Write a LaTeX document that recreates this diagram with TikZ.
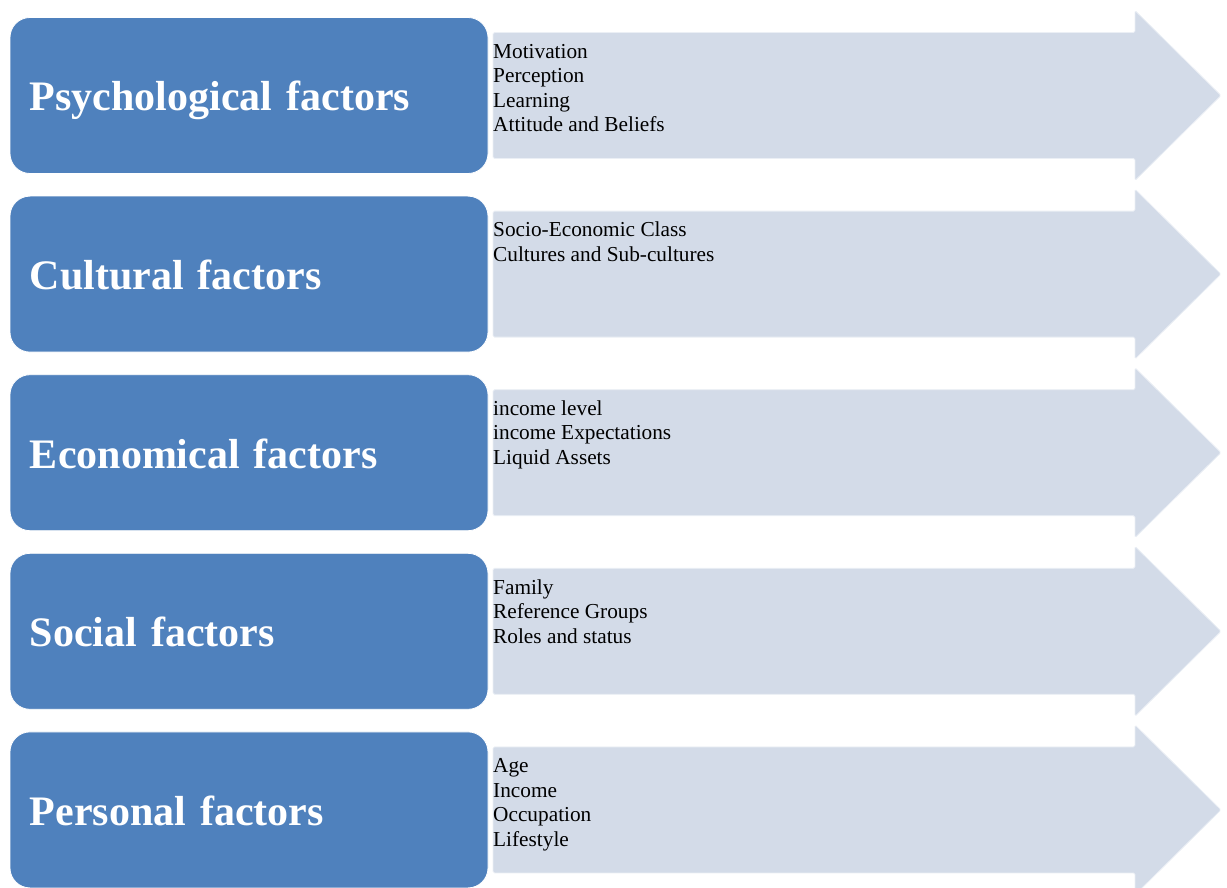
\documentclass[tikz,border=0pt]{standalone}
\usepackage{fontspec}
\setmainfont{Liberation Serif}
\definecolor{boxblue}{HTML}{4F81BD}
\definecolor{arrowfill}{HTML}{D3DBE8}
\tikzset{
  factorbox/.style={rectangle, rounded corners=20pt, fill=boxblue, draw=white, line width=0.8pt,
    minimum width=478pt, minimum height=156pt, text width=438pt, inner xsep=20pt,
    text height=31pt, text depth=0pt, align=left, text=white, font=\fontsize{42}{48}\selectfont\bfseries},
  itemlist/.style={anchor=north west, inner sep=0pt, align=left, font=\fontsize{21.3}{24.5}\selectfont},
  factorarrow/.style={fill=arrowfill, draw=white!55!arrowfill, line width=0.8pt, rounded corners=1.5pt}
}
% #1 name, #2 top of row, #3 factor, #4 list
\newcommand{\factorrow}[4]{
  \draw[factorarrow] (493,#2+15) -- (1135,#2+15) -- (1135,#2-7) -- (1221,#2+78) -- (1135,#2+163) -- (1135,#2+141) -- (493,#2+141) -- cycle;
  \node[factorbox] (#1) at (249,#2+78) {#3};
  \node[itemlist] (#1list) at (493,#2+23.35) {\strut #4};
}

\begin{document}
\begin{tikzpicture}[x=1pt,y=-1pt]
        \clip (0,0) rectangle (1227,888);
        
        %rows
        \factorrow{psych}{17.5}{Psychological factors}{Motivation\\Perception\\Learning\\Attitude and Beliefs}
        \factorrow{cult}{196.1}{Cultural factors}{Socio-Economic Class\\Cultures and Sub-cultures}
        \factorrow{econ}{374.7}{Economical factors}{income level\\income Expectations\\Liquid Assets}
        \factorrow{soc}{553.3}{Social factors}{Family\\Reference Groups\\Roles and status}
        \factorrow{pers}{731.9}{Personal factors}{Age\\Income\\Occupation\\Lifestyle}
        
\end{tikzpicture}
\end{document}
